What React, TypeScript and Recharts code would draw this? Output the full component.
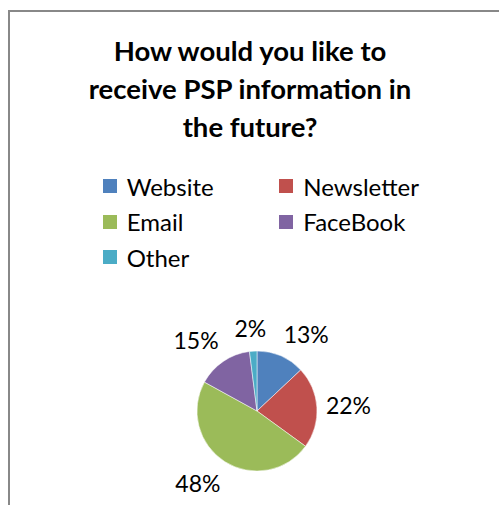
import React from 'react';
import { PieChart, Pie, Cell, Legend } from 'recharts';

const categories = ['Website', 'Newsletter', 'Email', 'FaceBook', 'Other'];
const shares = [13, 22, 48, 15, 2];
const colors = ['#4F81BD', '#C0504D', '#9BBB59', '#8064A2', '#4BACC6'];
const titleLines = ['How would you like to', 'receive PSP information in', 'the future?'];

const data = categories.map((name, i) => ({ name, value: shares[i] }));

const FONT = 'Lato, "Open Sans", sans-serif';
const RAD = Math.PI / 180;

// excel-ish "best fit": push the label box out along the slice direction
const renderLabel = (props: any) => {
  const { cx, cy, midAngle, outerRadius, percent } = props;
  const text = `${Math.round(percent * 100)}%`;
  const dx = Math.cos(-midAngle * RAD);
  const dy = Math.sin(-midAngle * RAD);
  const push = (v: number) => Math.max(-1, Math.min(1, v * 2.5));
  const r = outerRadius + 10;
  const halfW = text.length * 7.2;
  const x = cx + r * dx + halfW * push(dx);
  const y = cy + r * dy + 13 * push(dy);
  return (
    <text x={x} y={y} textAnchor="middle" dominantBaseline="central" fill="#000" fontFamily={FONT} fontSize={23}>
      {text}
    </text>
  );
};

const renderLegend = (props: any) => {
  const payload = [...(props.payload || [])].sort(
    (a: any, b: any) => categories.indexOf(a.value) - categories.indexOf(b.value)
  );
  return (
    <div style={{ display: 'grid', gridTemplateColumns: '176.6px 176.6px', fontFamily: FONT, fontSize: 24, color: '#000' }}>
      {payload.map((entry: any) => (
        <div key={entry.value} style={{ display: 'flex', alignItems: 'center', height: 35.5 }}>
          <span
            style={{
              width: 14, height: 14, marginRight: 10, flex: 'none',
              background: entry.color || colors[categories.indexOf(entry.value)],
            }}
          />
          <span>{entry.value}</span>
        </div>
      ))}
    </div>
  );
};

export default function App() {
  return (
    <div style={{ position: 'fixed', left: 0, top: 0, width: 499, height: 505, overflow: 'hidden', background: '#fff' }}>
      <div style={{ position: 'absolute', left: 8, top: 10, width: 600, height: 600, border: '2px solid #888' }} />
      <div
        style={{
          position: 'absolute', left: 50, top: 32, width: 400, textAlign: 'center',
          fontFamily: FONT, fontWeight: 700, fontSize: 27.5, lineHeight: '38px', color: '#000',
        }}
      >
        {titleLines.map((line) => (
          <div key={line}>{line}</div>
        ))}
      </div>
      <div style={{ position: 'absolute', left: 0, top: 0 }}>
        <PieChart width={499} height={505} margin={{ top: 0, right: 0, bottom: 0, left: 0 }}>
          <Pie
            data={data}
            dataKey="value"
            nameKey="name"
            cx={257}
            cy={411}
            outerRadius={60}
            startAngle={90}
            endAngle={-270}
            stroke="#fff"
            strokeWidth={0.5}
            label={renderLabel}
            labelLine={false}
            isAnimationActive={false}
          >
            {data.map((d, i) => (
              <Cell key={d.name} fill={colors[i]} />
            ))}
          </Pie>
          <Legend
            layout="horizontal"
            verticalAlign="middle"
            align="center"
            content={renderLegend}
            wrapperStyle={{ left: 102.7, top: 168.25, width: 360 }}
          />
        </PieChart>
      </div>
    </div>
  );
}
